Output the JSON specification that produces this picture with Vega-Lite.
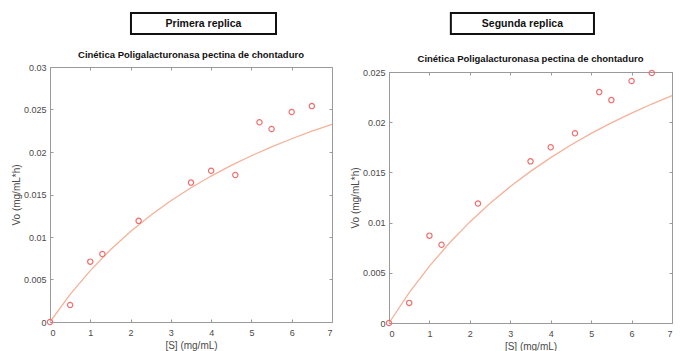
{
  "$schema": "https://vega.github.io/schema/vega-lite/v6.json",
  "padding": {"left": 11, "top": 12, "right": 0, "bottom": 0},
  "background": "white",
  "datasets": {
    "pL": [
      {"S": 0, "V": 0}, {"S": 0.5, "V": 0.0020}, {"S": 1, "V": 0.0071}, {"S": 1.3, "V": 0.0080},
      {"S": 2.2, "V": 0.0119}, {"S": 3.5, "V": 0.0164}, {"S": 4, "V": 0.0178}, {"S": 4.6, "V": 0.0173},
      {"S": 5.2, "V": 0.0235}, {"S": 5.5, "V": 0.0227}, {"S": 6, "V": 0.0247}, {"S": 6.5, "V": 0.0254}
    ],
    "pR": [
      {"S": 0, "V": 0}, {"S": 0.5, "V": 0.0020}, {"S": 1, "V": 0.0087}, {"S": 1.3, "V": 0.0078},
      {"S": 2.2, "V": 0.0119}, {"S": 3.5, "V": 0.0161}, {"S": 4, "V": 0.0175}, {"S": 4.6, "V": 0.0189},
      {"S": 5.2, "V": 0.0230}, {"S": 5.5, "V": 0.0222}, {"S": 6, "V": 0.0241}, {"S": 6.5, "V": 0.0249}
    ],
    "cL": [
      {"S": 0, "V": 0}, {"S": 0.5, "V": 0.00325}, {"S": 1, "V": 0.00605}, {"S": 1.5, "V": 0.0085},
      {"S": 2, "V": 0.01065}, {"S": 2.5, "V": 0.01256}, {"S": 3, "V": 0.01426}, {"S": 3.5, "V": 0.01579},
      {"S": 4, "V": 0.01717}, {"S": 4.5, "V": 0.01842}, {"S": 5, "V": 0.01956}, {"S": 5.5, "V": 0.0206},
      {"S": 6, "V": 0.02156}, {"S": 6.5, "V": 0.02245}, {"S": 7, "V": 0.02326}
    ],
    "cR": [
      {"S": 0, "V": 0}, {"S": 0.5, "V": 0.00302}, {"S": 1, "V": 0.00566}, {"S": 1.5, "V": 0.00799},
      {"S": 2, "V": 0.01007}, {"S": 2.5, "V": 0.01192}, {"S": 3, "V": 0.01359}, {"S": 3.5, "V": 0.0151},
      {"S": 4, "V": 0.01647}, {"S": 4.5, "V": 0.01773}, {"S": 5, "V": 0.01888}, {"S": 5.5, "V": 0.01993},
      {"S": 6, "V": 0.02091}, {"S": 6.5, "V": 0.02181}, {"S": 7, "V": 0.02265}
    ]
  },
  "spacing": 15,
  "hconcat": [
    {
      "bounds": "flush",
      "spacing": 33,
      "vconcat": [
        {
          "width": 282, "height": 21,
          "data": {"values": [{"label": "Primera replica"}]},
          "layer": [
            {
              "mark": {"type": "rect", "fill": "white", "stroke": "#111111", "strokeWidth": 2},
              "encoding": {
                "x": {"datum": 2.01, "type": "quantitative", "scale": {"domain": [0, 7], "nice": false, "zero": false}, "axis": null},
                "x2": {"datum": 5.61}
              }
            },
            {
              "mark": {"type": "text", "font": "Liberation Sans", "fontWeight": "bold", "fontSize": 10.5, "color": "#111111", "align": "center", "baseline": "middle"},
              "encoding": {
                "x": {"datum": 3.81, "type": "quantitative"},
                "text": {"field": "label"}
              }
            }
          ]
        },
        {
          "width": 282, "height": 255,
          "title": {"text": "Cinética Poligalacturonasa pectina de chontaduro", "font": "Liberation Sans", "fontSize": 9.5, "fontWeight": "bold", "color": "#111111", "offset": 4},
          "layer": [
            {
              "data": {"name": "cL"},
              "mark": {"type": "line", "color": "#f3b29a", "strokeWidth": 1.3},
              "encoding": {
                "x": {"field": "S", "type": "quantitative", "scale": {"domain": [0, 7], "nice": false},
                      "axis": {"orient": "bottom", "values": [0, 1, 2, 3, 4, 5, 6, 7], "title": "[S] (mg/mL)", "labelPadding": 9, "titlePadding": 3}},
                "y": {"field": "V", "type": "quantitative", "scale": {"domain": [0, 0.03], "nice": false},
                      "axis": {"orient": "left", "values": [0, 0.005, 0.01, 0.015, 0.02, 0.025, 0.03], "format": "~g", "title": "Vo (mg/mL*h)", "labelPadding": 7, "titlePadding": 2}}
              }
            },
            {
              "data": {"name": "pL"},
              "mark": {"type": "point", "filled": false, "color": "#f26d6d", "strokeWidth": 1.2, "size": 28, "opacity": 1},
              "encoding": {
                "x": {"field": "S", "type": "quantitative", "scale": {"domain": [0, 7], "nice": false},
                      "axis": {"orient": "top", "values": [0, 1, 2, 3, 4, 5, 6, 7], "labels": false, "title": null}},
                "y": {"field": "V", "type": "quantitative", "scale": {"domain": [0, 0.03], "nice": false},
                      "axis": {"orient": "right", "values": [0, 0.005, 0.01, 0.015, 0.02, 0.025, 0.03], "labels": false, "title": null}}
              }
            }
          ],
          "resolve": {"axis": {"x": "independent", "y": "independent"}}
        }
      ]
    },
    {
      "bounds": "flush",
      "spacing": 38,
      "vconcat": [
        {
          "width": 283, "height": 21,
          "data": {"values": [{"label": "Segunda replica"}]},
          "layer": [
            {
              "mark": {"type": "rect", "fill": "white", "stroke": "#111111", "strokeWidth": 2},
              "encoding": {
                "x": {"datum": 1.53, "type": "quantitative", "scale": {"domain": [0, 7], "nice": false, "zero": false}, "axis": null},
                "x2": {"datum": 5.07}
              }
            },
            {
              "mark": {"type": "text", "font": "Liberation Sans", "fontWeight": "bold", "fontSize": 10.5, "color": "#111111", "align": "center", "baseline": "middle"},
              "encoding": {
                "x": {"datum": 3.30, "type": "quantitative"},
                "text": {"field": "label"}
              }
            }
          ]
        },
        {
          "width": 283, "height": 251,
          "title": {"text": "Cinética Poligalacturonasa pectina de chontaduro", "font": "Liberation Sans", "fontSize": 9.5, "fontWeight": "bold", "color": "#111111", "offset": 4},
          "layer": [
            {
              "data": {"name": "cR"},
              "mark": {"type": "line", "color": "#f3b29a", "strokeWidth": 1.3},
              "encoding": {
                "x": {"field": "S", "type": "quantitative", "scale": {"domain": [0, 7], "nice": false},
                      "axis": {"orient": "bottom", "values": [0, 1, 2, 3, 4, 5, 6, 7], "title": "[S] (mg/mL)", "labelPadding": 9, "titlePadding": 3}},
                "y": {"field": "V", "type": "quantitative", "scale": {"domain": [0, 0.025], "nice": false},
                      "axis": {"orient": "left", "values": [0, 0.005, 0.01, 0.015, 0.02, 0.025], "format": "~g", "title": "Vo (mg/mL*h)", "labelPadding": 7, "titlePadding": 2}}
              }
            },
            {
              "data": {"name": "pR"},
              "mark": {"type": "point", "filled": false, "color": "#f26d6d", "strokeWidth": 1.2, "size": 28, "opacity": 1},
              "encoding": {
                "x": {"field": "S", "type": "quantitative", "scale": {"domain": [0, 7], "nice": false},
                      "axis": {"orient": "top", "values": [0, 1, 2, 3, 4, 5, 6, 7], "labels": false, "title": null}},
                "y": {"field": "V", "type": "quantitative", "scale": {"domain": [0, 0.025], "nice": false},
                      "axis": {"orient": "right", "values": [0, 0.005, 0.01, 0.015, 0.02, 0.025], "labels": false, "title": null}}
              }
            }
          ],
          "resolve": {"axis": {"x": "independent", "y": "independent"}}
        }
      ]
    }
  ],
  "config": {
    "view": {"stroke": null},
    "font": "Liberation Sans",
    "axis": {
      "grid": false,
      "domainColor": "#9a9a9a",
      "domainWidth": 1,
      "tickColor": "#9a9a9a",
      "tickSize": -3,
      "labelFont": "Liberation Sans",
      "labelFontSize": 9,
      "labelColor": "#4a4a4a",
      "titleFont": "Liberation Sans",
      "titleFontSize": 10,
      "titleFontWeight": "normal",
      "titleColor": "#4a4a4a"
    }
  }
}
